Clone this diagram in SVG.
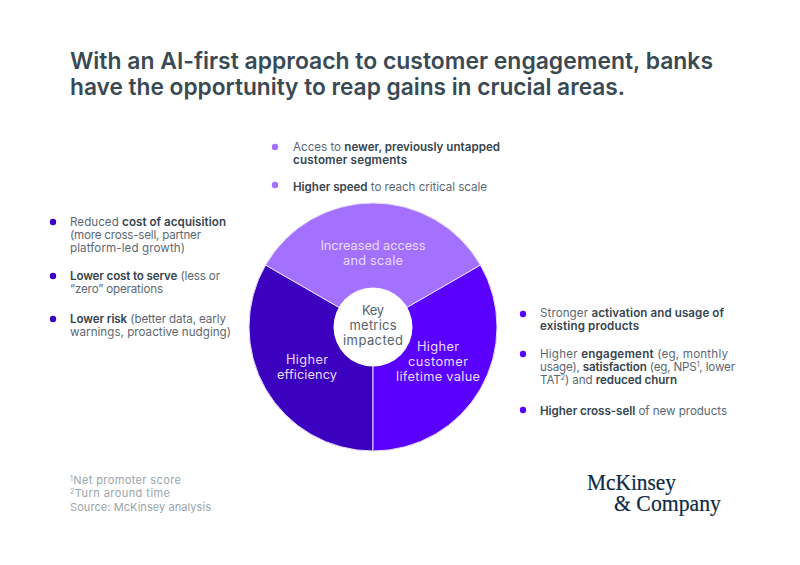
<svg xmlns="http://www.w3.org/2000/svg" width="800" height="565" viewBox="0 0 800 565">
<style>
text{font-family:"Inter","Open Sans","DejaVu Sans",sans-serif}
.t{font-size:23px;font-weight:600;fill:#3a4a55}
.b{font-size:11.6px;fill:#5b6873}
.s{font-weight:600;fill:#36454f}
.w{font-size:12.8px;fill:#e9dcff;text-anchor:middle}
.k{font-size:13px;fill:#55636e;text-anchor:middle}
.f{font-size:11px;fill:#9aa4ab}
.sup{font-size:7px}
.logo{font-family:"Liberation Serif",serif;font-size:22.5px;fill:#0f2a44;stroke:#0f2a44;stroke-width:.2}
.seg{stroke:#e6dcff;stroke-width:1}
.d1{fill:#a370ff}.d2{fill:#3c00bf}.d3{fill:#5a00ff}
</style>
<rect width="800" height="565" fill="#fff"/>
<g id="title">
<text class="t" x="70" y="69" textLength="643" lengthAdjust="spacingAndGlyphs">With an AI-first approach to customer engagement, banks</text>
<text class="t" x="70" y="95" textLength="555" lengthAdjust="spacingAndGlyphs">have the opportunity to reap gains in crucial areas.</text>
</g>
<g id="connectors">
<path class="seg" fill="#3c00bf" d="M373 327L373 451A124 124 0 0 1 265.6 265Z"/>
<path class="seg" fill="#5a00ff" d="M373 327L480.4 265A124 124 0 0 1 373 451Z"/>
<path class="seg" fill="#a370ff" d="M373 327L265.6 265A124 124 0 0 1 480.4 265Z"/>
</g>
<g id="node-access">
<text class="w" x="373" y="250" textLength="105">Increased access</text>
<text class="w" x="373" y="265" textLength="60">and scale</text>
</g>
<g id="node-efficiency">
<text class="w" x="307" y="364" textLength="42">Higher</text>
<text class="w" x="307" y="379" textLength="60">efficiency</text>
</g>
<g id="node-ltv">
<text class="w" x="438" y="351" textLength="42">Higher</text>
<text class="w" x="438" y="366" textLength="60">customer</text>
<text class="w" x="438" y="381" textLength="84">lifetime value</text>
</g>
<g id="node-center">
<circle cx="373" cy="327" r="39.5" fill="#fff"/>
<text class="k" x="373" y="315" textLength="22">Key</text>
<text class="k" x="373" y="330" textLength="47">metrics</text>
<text class="k" x="373" y="345" textLength="60">impacted</text>
</g>
<g id="list-top">
<circle class="d1" cx="275" cy="147" r="3.2"/>
<text class="b" x="293" y="151" textLength="207">Acces to <tspan class="s">newer, previously untapped</tspan></text>
<text class="b s" x="293" y="164" textLength="114">customer segments</text>
<circle class="d1" cx="275" cy="185" r="3.2"/>
<text class="b" x="293" y="191" textLength="194"><tspan class="s">Higher speed</tspan> to reach critical scale</text>
</g>
<g id="list-left">
<circle class="d2" cx="53" cy="222" r="3.2"/>
<text class="b" x="70" y="226" textLength="156">Reduced <tspan class="s">cost of acquisition</tspan></text>
<text class="b" x="70" y="239" textLength="131">(more cross-sell, partner</text>
<text class="b" x="70" y="252" textLength="115">platform-led growth)</text>
<circle class="d2" cx="53" cy="276" r="3.2"/>
<text class="b" x="70" y="280" textLength="150"><tspan class="s">Lower cost to serve</tspan> (less or</text>
<text class="b" x="70" y="293" textLength="93">“zero” operations</text>
<circle class="d2" cx="53" cy="319" r="3.2"/>
<text class="b" x="70" y="323" textLength="156"><tspan class="s">Lower risk</tspan> (better data, early</text>
<text class="b" x="70" y="336" textLength="161">warnings, proactive nudging)</text>
</g>
<g id="list-right">
<circle class="d3" cx="523" cy="314" r="3.2"/>
<text class="b" x="540" y="317" textLength="184">Stronger <tspan class="s">activation and usage of</tspan></text>
<text class="b s" x="540" y="330" textLength="99">existing products</text>
<circle class="d3" cx="523" cy="354" r="3.2"/>
<text class="b" x="540" y="358" textLength="188">Higher <tspan class="s">engagement</tspan> (eg, monthly</text>
<text class="b" x="540" y="371" textLength="195">usage), <tspan class="s">satisfaction</tspan> (eg, NPS<tspan class="sup" dy="-4">1</tspan><tspan dy="4">, lower</tspan></text>
<text class="b" x="540" y="384" textLength="137">TAT<tspan class="sup" dy="-4">2</tspan><tspan dy="4">) and </tspan><tspan class="s">reduced churn</tspan></text>
<circle class="d3" cx="523" cy="410" r="3.2"/>
<text class="b" x="540" y="415" textLength="187"><tspan class="s">Higher cross-sell</tspan> of new products</text>
</g>
<g id="footnotes">
<text class="f" x="70" y="484" textLength="111"><tspan class="sup" dy="-3">1</tspan><tspan dy="3">Net promoter score</tspan></text>
<text class="f" x="70" y="497" textLength="100"><tspan class="sup" dy="-3">2</tspan><tspan dy="3">Turn around time</tspan></text>
<text class="f" x="70" y="511" textLength="141">Source: McKinsey analysis</text>
</g>
<g id="logo">
<text class="logo" x="587" y="490" textLength="89" lengthAdjust="spacingAndGlyphs">McKinsey</text>
<text class="logo" x="614" y="511" textLength="107" lengthAdjust="spacingAndGlyphs">&amp; Company</text>
</g>
</svg>
